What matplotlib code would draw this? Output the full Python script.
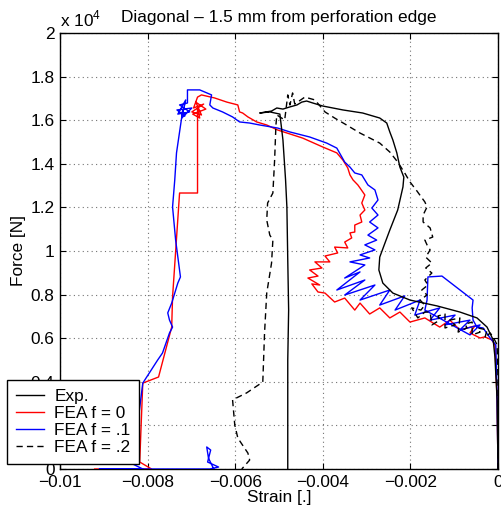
import numpy as np
import matplotlib
matplotlib.use("Agg")
import matplotlib.pyplot as plt
from matplotlib.lines import Line2D

plt.rcParams['font.family'] = ['Liberation Sans', 'DejaVu Sans']
plt.rcParams['mathtext.fontset'] = 'custom'
plt.rcParams['mathtext.rm'] = 'Liberation Sans'
FS = 12.4
plt.rcParams['font.size'] = FS

# ---- data (strain in 1e-3 units, force in 1e4 N units) ----
exp_strain = [0, -0.02, -0.07, -0.11, -0.25, -0.48, -0.87, -1.39, -2.01, -2.40, -2.63, -2.72, -2.70,
              -2.58, -2.47, -2.29, -2.17, -2.15, -2.24, -2.31, -2.40, -2.47, -2.54, -2.70, -3.09,
              -3.54, -4.00, -4.23, -4.37, -4.48, -4.59, -4.75, -4.91, -5.05, -5.17, -5.44, -5.21,
              -4.98, -4.91, -4.85, -4.82, -4.80, -4.78, -4.80, -4.80, -4.80]
exp_force = [0, 0.317, 0.514, 0.592, 0.651, 0.693, 0.720, 0.748, 0.775, 0.807, 0.853, 0.913, 0.972,
             1.037, 1.096, 1.188, 1.294, 1.339, 1.385, 1.450, 1.509, 1.546, 1.587, 1.610, 1.633,
             1.647, 1.665, 1.679, 1.688, 1.683, 1.670, 1.661, 1.651, 1.656, 1.642, 1.633, 1.638,
             1.628, 1.509, 1.326, 1.202, 0.959, 0.729, 0.500, 0.225, 0]

f0_strain = [0, -0.02, -0.07, -0.14, -0.30, -0.41, -0.64, -0.53, -0.87, -1.10, -1.33, -1.67, -2.01,
             -2.24, -2.47, -2.70, -2.93, -3.15, -3.27, -3.50, -3.73, -3.95, -4.11, -4.25, -4.07,
             -4.34, -4.11, -4.30, -4.02, -4.18, -3.84, -3.95, -3.66, -3.73, -3.43, -3.50, -3.34,
             -3.38, -3.27, -3.27, -3.11, -3.15, -3.04, -3.11, -3.04, -3.15, -3.20, -3.31, -3.38,
             -3.43, -3.54, -3.68, -4.00, -4.46, -5.03, -5.28, -5.51, -5.71, -5.83, -5.90, -5.94,
             -6.19, -6.47, -6.77, -6.86, -6.95, -6.72, -6.99, -6.77, -6.90, -6.67, -6.97, -6.81,
             -6.86, -6.86, -7.27, -7.43, -7.45, -7.75, -8.11, -8.18, -7.91, -9.21]
f0_force = [0, 0.317, 0.569, 0.592, 0.606, 0.601, 0.624, 0.656, 0.638, 0.683, 0.651, 0.693, 0.674,
            0.720, 0.693, 0.739, 0.711, 0.761, 0.729, 0.784, 0.766, 0.807, 0.812, 0.849, 0.844,
            0.876, 0.885, 0.913, 0.922, 0.950, 0.950, 0.977, 0.991, 1.018, 1.014, 1.041, 1.060,
            1.083, 1.087, 1.119, 1.133, 1.165, 1.188, 1.220, 1.257, 1.289, 1.303, 1.326, 1.349,
            1.381, 1.417, 1.450, 1.477, 1.518, 1.555, 1.578, 1.592, 1.615, 1.633, 1.638, 1.670,
            1.683, 1.702, 1.716, 1.706, 1.656, 1.674, 1.638, 1.624, 1.683, 1.651, 1.628, 1.610,
            1.656, 1.266, 1.266, 0.789, 0.651, 0.422, 0.394, 0.032, 0, 0]

f1_strain = [0, -0.02, -0.05, -0.18, -0.34, -0.48, -0.57, -0.59, -0.57, -1.28, -1.60, -1.62, -1.67,
             -0.64, -0.41, -0.87, -0.64, -1.21, -0.98, -1.55, -1.33, -1.90, -1.78, -2.35, -2.13,
             -2.70, -2.47, -3.15, -2.81, -3.50, -3.04, -3.68, -3.15, -3.50, -3.04, -3.38, -2.93,
             -3.15, -2.81, -3.04, -2.77, -2.97, -2.74, -2.93, -2.74, -2.88, -2.74, -2.81, -2.97,
             -3.11, -3.27, -3.38, -3.50, -3.68, -3.91, -4.30, -4.75, -5.03, -5.44, -5.67, -5.90,
             -6.06, -6.29, -6.51, -6.58, -6.54, -6.81, -7.09, -7.09, -7.27, -7.04, -7.31, -7.13,
             -7.22, -6.99, -7.33, -7.15, -7.20, -7.22, -7.34, -7.38, -7.43, -7.36, -7.25, -7.31,
             -7.45, -7.54, -7.50, -7.43, -7.50, -7.66, -7.77, -8.11, -8.34, -8.11, -9.10, -6.58,
             -6.38, -6.63, -6.56, -6.65, -6.61, -6.49]
f1_force = [0, 0.317, 0.569, 0.601, 0.647, 0.651, 0.683, 0.739, 0.775, 0.885, 0.881, 0.775, 0.729,
            0.615, 0.661, 0.638, 0.683, 0.661, 0.706, 0.683, 0.739, 0.706, 0.775, 0.729, 0.794,
            0.752, 0.821, 0.775, 0.844, 0.798, 0.867, 0.821, 0.904, 0.876, 0.936, 0.950, 0.968,
            0.982, 1.005, 1.028, 1.050, 1.073, 1.106, 1.133, 1.165, 1.197, 1.234, 1.280, 1.303,
            1.349, 1.358, 1.385, 1.408, 1.472, 1.495, 1.523, 1.546, 1.564, 1.578, 1.587, 1.592,
            1.615, 1.638, 1.656, 1.670, 1.716, 1.739, 1.739, 1.679, 1.670, 1.638, 1.628, 1.693,
            1.610, 1.656, 1.647, 1.619, 1.647, 1.615, 1.450, 1.326, 1.202, 1.050, 0.881, 0.853,
            0.761, 0.716, 0.683, 0.651, 0.624, 0.532, 0.500, 0.394, 0.023, 0, 0, 0,
            0.009, 0.032, 0.087, 0.101, 0.050, 0]

f2_strain = [0, 0, -0.02, -0.11, -0.18, -0.30, -0.25, -0.46, -0.41, -0.59, -0.59, -0.75, -0.71,
             -0.91, -0.87, -1.10, -0.98, -1.21, -1.21, -1.37, -1.33, -1.51, -1.55, -1.67, -1.83,
             -1.97, -1.76, -1.67, -1.78, -1.62, -1.74, -1.60, -1.67, -1.51, -1.65, -1.51, -1.65,
             -1.55, -1.62, -1.67, -1.49, -1.55, -1.71, -1.71, -1.62, -1.67, -1.85, -2.01, -2.13,
             -2.29, -2.47, -2.70, -3.15, -3.50, -3.73, -3.95, -4.18, -4.41, -4.64, -4.69, -4.75,
             -4.80, -4.87, -5.05, -5.07, -5.10, -5.14, -5.26, -5.28, -5.21, -5.14, -5.17, -5.28,
             -5.33, -5.37, -5.74, -6.06, -6.01, -5.94, -5.71, -5.67, -5.85]
f2_force = [0, 0.408, 0.569, 0.606, 0.624, 0.601, 0.638, 0.647, 0.628, 0.615, 0.674, 0.665, 0.647,
            0.628, 0.693, 0.683, 0.661, 0.647, 0.711, 0.702, 0.683, 0.661, 0.720, 0.720, 0.693,
            0.739, 0.729, 0.752, 0.775, 0.798, 0.821, 0.844, 0.867, 0.899, 0.922, 0.945, 0.972,
            1.005, 1.028, 1.050, 1.064, 1.106, 1.133, 1.165, 1.202, 1.225, 1.275, 1.317, 1.358,
            1.408, 1.454, 1.495, 1.541, 1.583, 1.610, 1.638, 1.693, 1.706, 1.674, 1.725, 1.670,
            1.716, 1.601, 1.624, 1.578, 1.417, 1.266, 1.220, 1.142, 1.073, 1.050, 0.945, 0.807,
            0.624, 0.399, 0.349, 0.317, 0.202, 0.142, 0.073, 0.041, 0]

labels = ['Exp.', 'FEA f = 0', 'FEA f = .1', 'FEA f = .2']
xticks = [-0.01, -0.008, -0.006, -0.004, -0.002, 0]
xticklabels = ['\u22120.01', '\u22120.008', '\u22120.006', '\u22120.004', '\u22120.002', '0']
yticks = [0, 0.2, 0.4, 0.6, 0.8, 1.0, 1.2, 1.4, 1.6, 1.8, 2.0]
yticklabels = ['0', '0.2', '0.4', '0.6', '0.8', '1', '1.2', '1.4', '1.6', '1.8', '2']

def sx(a):
    return np.array(a) * 1e-3

def sy(a):
    return np.array(a) * 1e4

fig = plt.figure(figsize=(5.02, 5.15), dpi=100)
ax = fig.add_axes([60/502, 46/515, 438/502, 436/515])

lw = 1.0
dash = (4.5, 3)
ax.plot(sx(f0_strain), sy(f0_force), color='red', lw=lw, zorder=3)
ax.plot(sx(f1_strain), sy(f1_force), color='blue', lw=lw, zorder=4)
ax.plot(sx(f2_strain), sy(f2_force), color='black', lw=lw, dashes=dash, zorder=5)
ax.plot(sx(exp_strain), sy(exp_force), color='black', lw=lw, zorder=6)

ax.set_xlim(-0.01, 0)
ax.set_ylim(0, 2e4)
ax.set_xticks(xticks)
ax.set_xticklabels(xticklabels)
ax.set_yticks([v * 1e4 for v in yticks])
ax.set_yticklabels(yticklabels)
ax.tick_params(direction='in', length=4.5, top=True, right=True, labelsize=FS, width=0.8, pad=4)
ax.grid(True, color='0.45', linestyle=(0, (1, 3)), linewidth=0.8)
for s in ax.spines.values():
    s.set_linewidth(1.0)

ax.set_xlabel('Strain [.]', labelpad=0)
ax.set_ylabel('Force [N]', labelpad=3)
ax.set_title('Diagonal \u2013 1.5 mm from perforation edge', pad=8, fontsize=FS)
ax.text(0.0, 1.008, r'x 10$^{4}$', transform=ax.transAxes, fontsize=FS, ha='left', va='bottom')

handles = [Line2D([], [], color='black', lw=lw),
           Line2D([], [], color='red', lw=lw),
           Line2D([], [], color='blue', lw=lw),
           Line2D([], [], color='black', lw=lw, dashes=dash)]
leg = fig.legend(handles, labels, loc='lower left', bbox_to_anchor=(7/502, 51/515),
                 frameon=True, fancybox=False, edgecolor='black', framealpha=1,
                 borderaxespad=0, borderpad=0.5, handlelength=1.65, handletextpad=0.6,
                 labelspacing=0.12, fontsize=FS)
leg.get_frame().set_linewidth(1.0)
leg.set_zorder(10)

fig.savefig('out.png', dpi=100)
